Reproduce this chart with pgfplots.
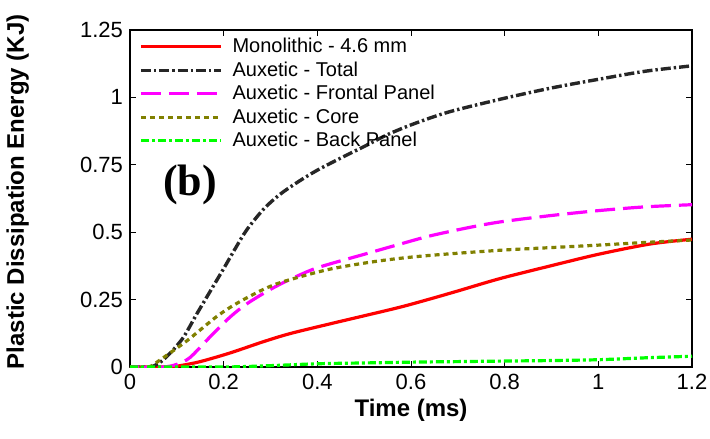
\documentclass[border=0pt]{standalone}
\usepackage{fontspec}
\setmainfont{Liberation Sans}
\newfontfamily\serifbold{Liberation Serif}
\usepackage{pgfplots}
\pgfplotsset{compat=1.18}
\definecolor{monored}{HTML}{FF0000}
\definecolor{frontpink}{HTML}{FF00FF}
\definecolor{coreolive}{HTML}{808000}
\definecolor{backgreen}{HTML}{00FF00}

\begin{document}
\begin{tikzpicture}
\begin{axis}[
    name=ax,
    scale only axis,
    width=281pt, height=168.5pt,
    xmin=0, xmax=1.2, ymin=0, ymax=1.25,
    xtick={0,0.2,...,1.2},
    ytick={0,0.25,0.5,0.75,1,1.25},
    yticklabels={0,0.25,0.5,0.75,1,1.25},
    xticklabels={0,0.2,0.4,0.6,0.8,1,1.2},
    tick align=inside,
    major tick length=3pt,
    tick style={black, line width=0.5pt},
    axis line style={black, line width=0.6pt},
    ticklabel style={font=\fontsize{11}{11}\selectfont},
    xlabel={\bfseries Time (ms)},
    ylabel={\bfseries Plastic Dissipation Energy (KJ)},
    label style={font=\fontsize{12}{12}\selectfont},
    xlabel style={yshift=2pt},
    ylabel style={at={(axis description cs:-0.2,0.52)}, anchor=center},
    legend style={at={(0.012,0.995)}, anchor=north west, draw=none, fill=none,
        font=\fontsize{10}{10}\selectfont, row sep=-1pt, inner sep=1pt},
    legend cell align=left,
    legend image code/.code={\draw[#1] (0pt,0pt) -- (40pt,0pt); \path (43pt,0pt);},
    clip=true,
]
\addplot[monored, line width=1.6pt, smooth] coordinates {
(0,0) (0.08,0) (0.107,0.005) (0.15,0.02) (0.2135,0.052) (0.285,0.094)
(0.342,0.124) (0.427,0.16) (0.5,0.19) (0.577,0.222) (0.64,0.252)
(0.7,0.282) (0.79,0.328) (0.9,0.376) (1.0,0.418) (1.11,0.456) (1.2,0.474)};
\addlegendentry{Monolithic - 4.6 mm}
\addplot[black!85, line width=1.7pt, smooth, dash pattern=on 5pt off 1.5pt on 1.2pt off 1.5pt] coordinates {
(0,0) (0.04,0) (0.06,0.012) (0.085,0.05) (0.114,0.11) (0.142,0.195)
(0.171,0.28) (0.2,0.365) (0.225,0.44) (0.249,0.508) (0.285,0.585)
(0.32,0.64) (0.36,0.688) (0.4,0.73) (0.45,0.775) (0.5,0.818)
(0.55,0.862) (0.6,0.898) (0.655,0.932) (0.7,0.955) (0.8,0.997)
(0.9,1.035) (1.0,1.067) (1.1,1.097) (1.2,1.117)};
\addlegendentry{Auxetic - Total}
\addplot[frontpink, line width=1.6pt, smooth, dash pattern=on 10pt off 4pt] coordinates {
(0,0) (0.07,0) (0.1,0.01) (0.128,0.035) (0.17,0.11) (0.2135,0.185)
(0.25,0.235) (0.3,0.288) (0.342,0.325) (0.4,0.368) (0.5,0.418)
(0.577,0.456) (0.64,0.486) (0.72,0.516) (0.79,0.538) (0.9,0.562)
(1.0,0.58) (1.1,0.594) (1.2,0.602)};
\addlegendentry{Auxetic - Frontal Panel}
\addplot[coreolive, line width=1.6pt, smooth, dash pattern=on 2.5pt off 2pt] coordinates {
(0,0) (0.04,0) (0.064,0.026) (0.1,0.07) (0.128,0.106) (0.185,0.187)
(0.228,0.236) (0.285,0.288) (0.33,0.318) (0.427,0.363) (0.534,0.394)
(0.634,0.413) (0.79,0.433) (0.9,0.443) (1.0,0.452) (1.1,0.462) (1.2,0.471)};
\addlegendentry{Auxetic - Core}
\addplot[backgreen, line width=1.6pt, smooth, dash pattern=on 4pt off 1.5pt on 1.5pt off 1.5pt] coordinates {
(0,0) (0.2,0) (0.3,0.005) (0.4,0.012) (0.5,0.015) (0.6,0.018)
(0.7,0.02) (0.8,0.022) (0.9,0.024) (1.0,0.027) (1.1,0.034) (1.2,0.04)};
\addlegendentry{Auxetic - Back Panel}
\node[font=\serifbold\bfseries\fontsize{22}{22}\selectfont] at (axis cs:0.128,0.675) {(b)};
\end{axis}
\pgfresetboundingbox
\path ([xshift=-65pt,yshift=-35.5pt]ax.south west) rectangle ([xshift=9pt,yshift=15pt]ax.north east);
\end{tikzpicture}
\end{document}
